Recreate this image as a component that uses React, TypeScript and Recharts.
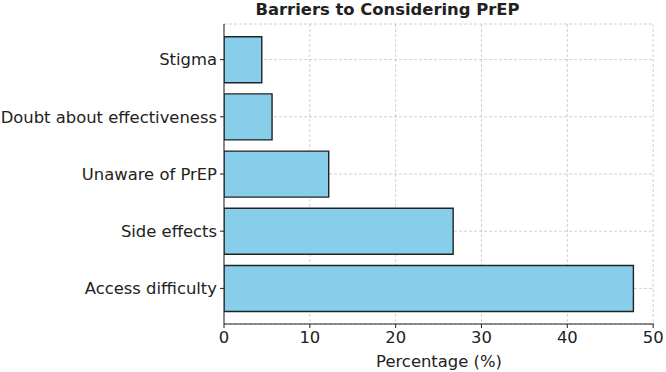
import { BarChart, Bar, XAxis, YAxis, CartesianGrid } from "recharts";

const barriers = [
  "Stigma",
  "Doubt about effectiveness",
  "Unaware of PrEP",
  "Side effects",
  "Access difficulty",
];
const percentages = [4.4, 5.6, 12.2, 26.7, 47.7];
const xTicks = [0, 10, 20, 30, 40, 50];

const data = barriers.map((name, i) => ({ name, value: percentages[i] }));

const font = "DejaVu Sans, sans-serif";

export default function App() {
  return (
    <div style={{ position: "absolute", left: 0, top: 0, width: 666, height: 372, background: "#fff" }}>
      <div
        style={{
          position: "absolute",
          left: 240,
          top: 0,
          width: 295,
          lineHeight: "19px",
          textAlign: "center",
          fontFamily: font,
          fontWeight: "bold",
          fontSize: 16.4,
          color: "#222",
          whiteSpace: "nowrap",
        }}
      >
        Barriers to Considering PrEP
      </div>
      <BarChart
        width={666}
        height={372}
        data={data}
        layout="vertical"
        margin={{ top: 24, right: 12, left: 0, bottom: 0 }}
        barCategoryGap="10%"
      >
        <XAxis
          type="number"
          domain={[0, 50.1]}
          ticks={xTicks}
          allowDataOverflow
          height={48}
          tick={{ fontSize: 16.4, fill: "#222", fontFamily: font }}
          tickSize={4}
          tickMargin={3}
          axisLine={{ stroke: "#222", strokeWidth: 1 }}
          tickLine={{ stroke: "#222" }}
          label={{
            value: "Percentage (%)",
            position: "insideBottom",
            offset: 5,
            fontSize: 16.4,
            fill: "#222",
            fontFamily: font,
          }}
        />
        <YAxis
          type="category"
          dataKey="name"
          width={224}
          padding={{ top: 7, bottom: 7 }}
          tick={{ fontSize: 16.4, fill: "#222", fontFamily: font }}
          tickSize={4}
          tickMargin={3}
          axisLine={{ stroke: "#222", strokeWidth: 1 }}
          tickLine={{ stroke: "#222" }}
        />
        <Bar
          dataKey="value"
          fill="#87CEEB"
          stroke="#222"
          strokeWidth={1.4}
          isAnimationActive={false}
        />
        <CartesianGrid
          stroke="#b0b0b0"
          strokeOpacity={0.6}
          strokeDasharray="3 2"
          verticalValues={xTicks}
        />
      </BarChart>
    </div>
  );
}
